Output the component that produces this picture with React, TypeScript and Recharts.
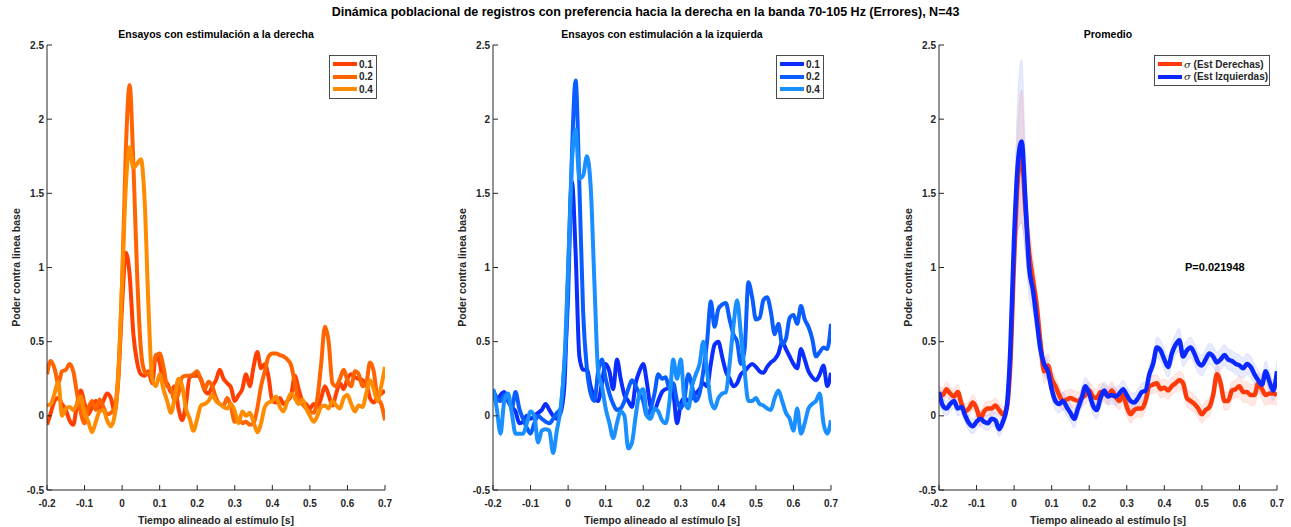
import { ComposedChart, Line, Area, XAxis, YAxis } from 'recharts';

// time base: -0.2 s .. 0.7 s in 10 ms steps
const time = Array.from({ length: 91 }, (_, i) => Math.round((-0.2 + i * 0.01) * 100) / 100);
const xTicks = [-0.2, -0.1, 0, 0.1, 0.2, 0.3, 0.4, 0.5, 0.6, 0.7];
const yTicks = [-0.5, 0, 0.5, 1, 1.5, 2, 2.5];

// right-side stimulation, by intensity
const derecha01 = [
  -0.06, 0.02, 0.10, 0.12, 0.08, 0.04, -0.03, -0.06, 0.08, 0.17,
  0.08, 0.01, 0.06, 0.10, 0.04, 0.10, 0.15, 0.12, 0.03, 0.25,
  0.75, 1.10, 0.95, 0.55, 0.36, 0.28, 0.27, 0.30, 0.22, 0.41,
  0.36, 0.23, 0.22, 0.16, 0.20, 0.05, -0.03, 0.08, 0.26, 0.27,
  0.27, 0.25, 0.17, 0.15, 0.20, 0.24, 0.31, 0.25, 0.22, 0.19,
  0.10, 0.14, 0.18, 0.28, 0.20, 0.33, 0.43, 0.32, 0.35, 0.26,
  0.10, 0.09, 0.12, 0.08, 0.10, 0.14, 0.27, 0.18, 0.10, 0.08,
  0.05, 0.08, 0.06, 0.12, 0.20, 0.14, 0.07, 0.15, 0.22, 0.18,
  0.25, 0.28, 0.26, 0.25, 0.24, 0.22, 0.12, 0.09, 0.13, 0.15,
  0.17,
];
const derecha02 = [
  0.28, 0.37, 0.32, 0.22, 0.30, 0.31, 0.35, 0.30, 0.15, 0.02,
  -0.05, 0.05, 0.10, 0.04, 0.11, 0.06, 0.01, 0.02, 0.05, 0.30,
  0.90, 1.80, 2.23, 1.70, 0.95, 0.45, 0.30, 0.28, 0.32, 0.40,
  0.42, 0.33, 0.20, 0.18, 0.10, 0.15, 0.26, 0.27, 0.27, 0.28,
  0.30, 0.24, 0.18, 0.23, 0.20, 0.12, 0.08, 0.07, 0.12, 0.06,
  -0.04, -0.02, -0.05, -0.04, -0.06, -0.05, 0.05, 0.20, 0.30, 0.40,
  0.42, 0.42, 0.41, 0.40, 0.38, 0.34, 0.22, 0.10, 0.08, 0.05,
  0.03, 0.02, 0.12, 0.35, 0.60, 0.50, 0.22, 0.20, 0.25, 0.31,
  0.24, 0.20, 0.30, 0.28, 0.20, 0.22, 0.36, 0.30, 0.12, 0.08,
  -0.03,
];
const derecha04 = [
  0.07, 0.08, 0.15, 0.23, 0.00, 0.05, 0.06, 0.04, 0.08, 0.13,
  0.02, -0.04, -0.11, -0.04, 0.03, 0.04, -0.03, -0.07, 0.00, 0.28,
  0.90, 1.55, 1.81, 1.67, 1.70, 1.73, 1.45, 0.75, 0.25, 0.20,
  0.28, 0.18, 0.10, 0.02, 0.12, 0.25, 0.20, 0.05, -0.02, -0.10,
  -0.02, 0.07, 0.08, 0.10, 0.14, 0.10, 0.08, 0.06, 0.05, 0.08,
  0.03, -0.05, 0.03, 0.00, 0.02, -0.04, -0.11, -0.05, 0.06, 0.09,
  0.10, 0.13, 0.06, 0.03, 0.10, 0.15, 0.12, 0.08, 0.11, 0.05,
  0.00, -0.04, 0.00, 0.06, 0.07, 0.05, 0.10, 0.07, 0.05, 0.12,
  0.14, 0.08, 0.03, 0.07, 0.06, 0.15, 0.24, 0.18, 0.10, 0.20,
  0.33,
];

// left-side stimulation, by intensity
const izquierda01 = [
  0.15, 0.10, 0.14, 0.16, 0.10, 0.06, 0.03, -0.05, -0.04, 0.00,
  -0.02, 0.00, 0.02, 0.04, 0.08, 0.04, 0.00, -0.02, 0.02, 0.20,
  0.95, 1.58, 1.10, 0.40, 0.31, 0.31, 0.20, 0.12, 0.10, 0.22,
  0.35, 0.30, 0.18, 0.38, 0.25, 0.14, 0.10, 0.06, 0.22, 0.30,
  0.35, 0.22, 0.06, 0.04, 0.10, 0.16, 0.18, 0.19, 0.15, -0.05,
  0.08, 0.12, 0.10, 0.12, 0.15, 0.18, 0.22, 0.20, 0.35, 0.48,
  0.50, 0.40, 0.30, 0.25, 0.20, 0.22, 0.28, 0.30, 0.33, 0.35,
  0.33, 0.30, 0.29, 0.33, 0.36, 0.38, 0.42, 0.50, 0.45, 0.40,
  0.35, 0.32, 0.45, 0.38, 0.30, 0.26, 0.24, 0.28, 0.34, 0.20,
  0.29,
];
const izquierda02 = [
  0.18, 0.12, 0.10, 0.14, 0.12, 0.05, 0.16, 0.05, -0.02, -0.08,
  -0.12, -0.05, 0.00, -0.02, -0.04, -0.05, -0.02, 0.02, 0.05, 0.35,
  0.80, 1.75, 2.26, 1.55, 0.70, 0.32, 0.15, 0.10, 0.30, 0.38,
  0.25, 0.15, 0.08, 0.04, 0.05, 0.10, 0.18, 0.24, 0.20, 0.15,
  0.10, 0.00, 0.05, 0.15, 0.28, 0.25, 0.26, 0.18, 0.22, 0.10,
  0.05, 0.12, 0.28, 0.20, 0.10, 0.15, 0.30, 0.50, 0.77, 0.60,
  0.72, 0.75, 0.76, 0.65, 0.55, 0.50, 0.35, 0.45, 0.90, 0.80,
  0.65, 0.66, 0.78, 0.80, 0.70, 0.55, 0.62, 0.48, 0.52, 0.66,
  0.68, 0.62, 0.74, 0.65, 0.60, 0.52, 0.40, 0.43, 0.46, 0.45,
  0.62,
];
const izquierda04 = [
  0.18, 0.05, -0.12, 0.10, 0.15, 0.02, -0.12, -0.12, -0.12, -0.05,
  0.03, 0.00, -0.18, -0.10, -0.09, -0.10, -0.25, -0.10, 0.05, 0.35,
  1.00, 1.70, 1.93, 1.60, 1.62, 1.75, 1.55, 0.90, 0.30, 0.20,
  0.05, -0.05, -0.15, -0.05, 0.03, 0.00, -0.22, -0.18, 0.00, 0.15,
  0.18, 0.00, -0.02, 0.05, 0.03, -0.03, -0.05, 0.10, 0.38, 0.25,
  0.38, 0.10, 0.05, 0.20, 0.28, 0.35, 0.50, 0.30, 0.10, 0.05,
  0.12, 0.15, 0.16, 0.35, 0.60, 0.78, 0.55, 0.30, 0.10, 0.10,
  0.12, 0.08, 0.07, 0.05, 0.04, 0.12, 0.17, 0.10, 0.02, -0.02,
  -0.10, 0.05, -0.12, -0.05, 0.05, 0.08, 0.10, 0.15, -0.05, -0.12,
  -0.03,
];

// averages across intensities, with their error half-widths
const promedioDer = [
  0.15, 0.14, 0.18, 0.15, 0.13, 0.16, 0.08, 0.03, 0.05, 0.09,
  0.05, -0.02, 0.03, 0.05, 0.05, 0.07, 0.04, 0.01, 0.05, 0.35,
  1.05, 1.60, 1.75, 1.40, 1.10, 0.92, 0.75, 0.50, 0.30, 0.34,
  0.25, 0.20, 0.14, 0.10, 0.11, 0.12, 0.11, 0.10, 0.12, 0.14,
  0.17, 0.13, 0.12, 0.16, 0.15, 0.14, 0.17, 0.13, 0.10, 0.14,
  0.06, 0.01, 0.04, 0.05, 0.05, 0.10, 0.20, 0.21, 0.22, 0.18,
  0.19, 0.17, 0.20, 0.22, 0.24, 0.22, 0.12, 0.10, 0.08, 0.05,
  0.01, 0.04, 0.06, 0.14, 0.28, 0.22, 0.10, 0.10, 0.17, 0.18,
  0.20, 0.16, 0.16, 0.14, 0.14, 0.22, 0.18, 0.14, 0.15, 0.15,
  0.14,
];
const errDer = [
  0.05, 0.05, 0.05, 0.05, 0.05, 0.05, 0.05, 0.05, 0.05, 0.05,
  0.05, 0.05, 0.05, 0.05, 0.05, 0.05, 0.05, 0.05, 0.05, 0.08,
  0.18, 0.35, 0.45, 0.30, 0.20, 0.15, 0.12, 0.10, 0.08, 0.08,
  0.06, 0.06, 0.06, 0.06, 0.06, 0.06, 0.06, 0.06, 0.06, 0.06,
  0.06, 0.06, 0.06, 0.06, 0.06, 0.06, 0.06, 0.06, 0.06, 0.06,
  0.06, 0.06, 0.06, 0.06, 0.06, 0.06, 0.06, 0.06, 0.06, 0.06,
  0.06, 0.06, 0.06, 0.06, 0.06, 0.06, 0.06, 0.06, 0.06, 0.06,
  0.06, 0.06, 0.06, 0.06, 0.06, 0.06, 0.06, 0.06, 0.06, 0.06,
  0.07, 0.07, 0.07, 0.07, 0.07, 0.07, 0.07, 0.07, 0.07, 0.07,
  0.07,
];
const promedioIzq = [
  0.16, 0.07, 0.05, 0.08, 0.10, 0.05, 0.06, 0.00, -0.05, -0.07,
  -0.04, -0.02, -0.04, -0.05, -0.02, -0.03, -0.09, -0.04, 0.05, 0.45,
  1.20, 1.70, 1.85, 1.45, 1.00, 0.85, 0.65, 0.45, 0.35, 0.30,
  0.18, 0.10, 0.08, 0.10, 0.06, 0.02, -0.02, 0.05, 0.12, 0.20,
  0.15, 0.07, 0.04, 0.12, 0.17, 0.13, 0.14, 0.13, 0.15, 0.18,
  0.14, 0.10, 0.09, 0.12, 0.16, 0.17, 0.28, 0.35, 0.46, 0.44,
  0.38, 0.33, 0.42, 0.48, 0.51, 0.40, 0.44, 0.46, 0.42, 0.36,
  0.34, 0.38, 0.42, 0.40, 0.36, 0.38, 0.41, 0.38, 0.37, 0.35,
  0.34, 0.32, 0.35, 0.33, 0.28, 0.24, 0.21, 0.30, 0.23, 0.17,
  0.30,
];
const errIzq = [
  0.05, 0.05, 0.05, 0.05, 0.05, 0.05, 0.05, 0.05, 0.05, 0.05,
  0.05, 0.05, 0.05, 0.05, 0.05, 0.05, 0.05, 0.05, 0.05, 0.10,
  0.20, 0.45, 0.55, 0.35, 0.20, 0.15, 0.12, 0.10, 0.08, 0.07,
  0.06, 0.06, 0.06, 0.06, 0.06, 0.06, 0.06, 0.06, 0.06, 0.06,
  0.06, 0.06, 0.06, 0.06, 0.06, 0.06, 0.06, 0.06, 0.06, 0.06,
  0.06, 0.06, 0.06, 0.06, 0.06, 0.06, 0.06, 0.06, 0.07, 0.07,
  0.07, 0.07, 0.07, 0.07, 0.08, 0.07, 0.07, 0.07, 0.07, 0.07,
  0.07, 0.07, 0.07, 0.07, 0.07, 0.07, 0.07, 0.07, 0.07, 0.07,
  0.07, 0.07, 0.07, 0.07, 0.07, 0.07, 0.07, 0.07, 0.07, 0.07,
  0.07,
];

const rowsDer = time.map((t, i) => ({ t, a: derecha01[i], b: derecha02[i], c: derecha04[i] }));
const rowsIzq = time.map((t, i) => ({ t, a: izquierda01[i], b: izquierda02[i], c: izquierda04[i] }));
const rowsProm = time.map((t, i) => ({
  t,
  der: promedioDer[i],
  izq: promedioIzq[i],
  bandDer: [promedioDer[i] - errDer[i], promedioDer[i] + errDer[i]],
  bandIzq: [promedioIzq[i] - errIzq[i], promedioIzq[i] + errIzq[i]],
}));

const FONT = '"Liberation Sans", Arial, Helvetica, sans-serif';
const INK = '#262626';
const W = 430;
const H = 527;
const margin = { top: 45, right: 45, bottom: 0, left: 17 };
const tickFont = { fontSize: 10, fontWeight: 700, fill: INK, fontFamily: FONT };
const axisStroke = { stroke: INK, strokeWidth: 1 };

const YTitle = () => (
  <text
    x={16}
    y={267.5}
    transform="rotate(-90 16 267.5)"
    textAnchor="middle"
    dominantBaseline="central"
    fontSize={10.5}
    fontWeight={700}
    fill={INK}
    fontFamily={FONT}
  >
    Poder contra linea base
  </text>
);

// box with inward ticks on all four sides, like the usual MATLAB axes
function frame() {
  return [
    <XAxis
      key="xb"
      xAxisId="b"
      dataKey="t"
      type="number"
      domain={[-0.2, 0.7]}
      ticks={xTicks}
      interval={0}
      height={37}
      tickSize={-5}
      tickMargin={15}
      tick={tickFont}
      axisLine={axisStroke}
      tickLine={axisStroke}
      allowDataOverflow
      label={{
        value: 'Tiempo alineado al estímulo [s]',
        position: 'insideBottom',
        offset: 3,
        fontSize: 10.5,
        fontWeight: 700,
        fill: INK,
        fontFamily: FONT,
      }}
    />,
    <XAxis
      key="xt"
      xAxisId="t"
      orientation="top"
      dataKey="t"
      type="number"
      domain={[-0.2, 0.7]}
      ticks={xTicks}
      interval={0}
      height={0}
      tickSize={-5}
      tickFormatter={() => ''}
      axisLine={axisStroke}
      tickLine={axisStroke}
      allowDataOverflow
    />,
    <YAxis
      key="yl"
      yAxisId="l"
      type="number"
      domain={[-0.5, 2.5]}
      ticks={yTicks}
      interval={0}
      width={30}
      tickSize={-5}
      tickMargin={8}
      tick={tickFont}
      axisLine={axisStroke}
      tickLine={axisStroke}
      allowDataOverflow
      label={<YTitle />}
    />,
    <YAxis
      key="yr"
      yAxisId="r"
      orientation="right"
      type="number"
      domain={[-0.5, 2.5]}
      ticks={yTicks}
      interval={0}
      width={0}
      tickSize={-5}
      tickFormatter={() => ''}
      axisLine={axisStroke}
      tickLine={axisStroke}
      allowDataOverflow
    />,
  ];
}

function trace(key: string, color: string, width = 4) {
  return (
    <Line
      key={key}
      xAxisId="b"
      yAxisId="l"
      dataKey={key}
      type="monotone"
      stroke={color}
      strokeWidth={width}
      strokeLinejoin="round"
      dot={false}
      activeDot={false}
      isAnimationActive={false}
    />
  );
}

const text = (size: number) => ({
  position: 'absolute' as const,
  fontFamily: FONT,
  fontWeight: 700,
  fontSize: size,
  color: '#000',
  whiteSpace: 'nowrap' as const,
});

function LegendBox({ left, top, width, items }: { left: number; top: number; width: number; items: { label: any; color: string }[] }) {
  return (
    <div
      style={{
        position: 'absolute',
        left,
        top,
        width,
        background: '#fff',
        border: '1px solid #4a4a4a',
        padding: '2px 0 2px 3px',
        boxSizing: 'border-box',
      }}
    >
      {items.map((it, i) => (
        <div key={i} style={{ display: 'flex', alignItems: 'center', height: 12.5 }}>
          <div style={{ width: 24, height: 4, background: it.color, marginRight: 2 }} />
          <span style={{ fontFamily: FONT, fontWeight: 700, fontSize: 10, color: INK }}>{it.label}</span>
        </div>
      ))}
    </div>
  );
}

const derColors = ['#FF4000', '#FF6400', '#FF8C00'];
const izqColors = ['#0A2EFF', '#0A5EFF', '#1A8FFF'];
const promRed = '#FF3A0A';
const promBlue = '#0A28FF';

export default function App() {
  return (
    <div style={{ position: 'absolute', left: 0, top: 0, width: 1291, height: 527, overflow: 'hidden', background: '#fff' }}>
      <div style={{ ...text(12.5), left: 0, width: 1291, top: 5, textAlign: 'center' }}>
        Dinámica poblacional de registros con preferencia hacia la derecha en la banda 70-105 Hz (Errores), N=43
      </div>
      <div style={{ ...text(10.5), left: 47, width: 338, top: 28, textAlign: 'center' }}>
        Ensayos con estimulación a la derecha
      </div>
      <div style={{ ...text(10.5), left: 493, width: 338, top: 28, textAlign: 'center' }}>
        Ensayos con estimulación a la izquierda
      </div>
      <div style={{ ...text(10.5), left: 939, width: 338, top: 28, textAlign: 'center' }}>
        Promedio
      </div>

      <div style={{ position: 'absolute', left: 0, top: 0 }}>
        <ComposedChart width={W} height={H} data={rowsDer} margin={margin}>
          {frame()}
          {trace('a', derColors[0])}
          {trace('b', derColors[1])}
          {trace('c', derColors[2])}
        </ComposedChart>
      </div>

      <div style={{ position: 'absolute', left: 446, top: 0 }}>
        <ComposedChart width={W} height={H} data={rowsIzq} margin={margin}>
          {frame()}
          {trace('a', izqColors[0])}
          {trace('b', izqColors[1])}
          {trace('c', izqColors[2])}
        </ComposedChart>
      </div>

      <div style={{ position: 'absolute', left: 892, top: 0 }}>
        <ComposedChart width={W} height={H} data={rowsProm} margin={margin}>
          {frame()}
          <Area
            xAxisId="b"
            yAxisId="l"
            dataKey="bandDer"
            type="monotone"
            stroke="#ff8a7a"
            strokeOpacity={0.35}
            strokeWidth={0.6}
            fill="#ff5a40"
            fillOpacity={0.14}
            isAnimationActive={false}
            activeDot={false}
          />
          <Area
            xAxisId="b"
            yAxisId="l"
            dataKey="bandIzq"
            type="monotone"
            stroke="#8a9aff"
            strokeOpacity={0.35}
            strokeWidth={0.6}
            fill="#5a70ff"
            fillOpacity={0.14}
            isAnimationActive={false}
            activeDot={false}
          />
          {trace('der', promRed, 4.5)}
          {trace('izq', promBlue, 4.5)}
        </ComposedChart>
      </div>

      <div style={{ ...text(11), left: 1185, top: 261 }}>P=0.021948</div>

      <LegendBox
        left={329}
        top={55}
        width={48}
        items={[
          { label: '0.1', color: derColors[0] },
          { label: '0.2', color: derColors[1] },
          { label: '0.4', color: derColors[2] },
        ]}
      />
      <LegendBox
        left={776}
        top={55}
        width={48}
        items={[
          { label: '0.1', color: izqColors[0] },
          { label: '0.2', color: izqColors[1] },
          { label: '0.4', color: izqColors[2] },
        ]}
      />
      <LegendBox
        left={1154}
        top={55}
        width={116}
        items={[
          { label: <><i style={{ fontFamily: '"DejaVu Serif", serif', fontWeight: 400 }}>σ</i> (Est Derechas)</>, color: promRed },
          { label: <><i style={{ fontFamily: '"DejaVu Serif", serif', fontWeight: 400 }}>σ</i> (Est Izquierdas)</>, color: promBlue },
        ]}
      />
    </div>
  );
}
